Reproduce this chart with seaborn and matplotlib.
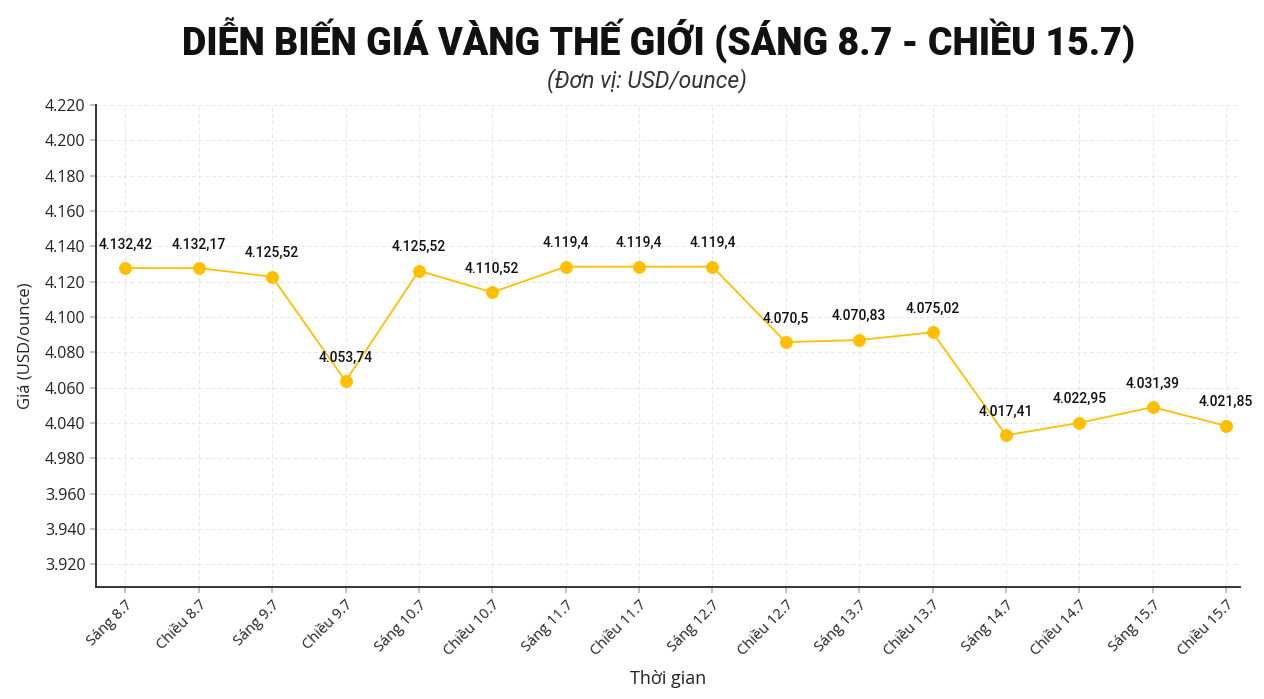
import matplotlib
matplotlib.use("Agg")
import matplotlib.pyplot as plt
import seaborn as sns
import pandas as pd

# Time slots (x axis)
periods = ["Sáng 8.7", "Chiều 8.7", "Sáng 9.7", "Chiều 9.7", "Sáng 10.7", "Chiều 10.7",
           "Sáng 11.7", "Chiều 11.7", "Sáng 12.7", "Chiều 12.7", "Sáng 13.7", "Chiều 13.7",
           "Sáng 14.7", "Chiều 14.7", "Sáng 15.7", "Chiều 15.7"]

# point heights as drawn against the axis of the original chart
plotted = [4127.6, 4127.6, 4122.7, 4063.6, 4126.1, 4113.9, 4128.4, 4128.4,
           4128.4, 4085.7, 4086.9, 4091.2, 4033.0, 4040.0, 4048.9, 4038.3]

# price labels written above each point
price_labels = ["4.132,42", "4.132,17", "4.125,52", "4.053,74", "4.125,52", "4.110,52",
                "4.119,4", "4.119,4", "4.119,4", "4.070,5", "4.070,83", "4.075,02",
                "4.017,41", "4.022,95", "4.031,39", "4.021,85"]

# y axis ticks and their (original) labels
y_ticks = [4220, 4200, 4180, 4160, 4140, 4120, 4100, 4080, 4060, 4040, 4020, 4000, 3980, 3960]
y_tick_labels = ["4.220", "4.200", "4.180", "4.160", "4.140", "4.120", "4.100", "4.080",
                 "4.060", "4.040", "4.980", "3.960", "3.940", "3.920"]

df = pd.DataFrame({"period": periods, "price": plotted})

sns.set_theme(style="white")
plt.rcParams["font.family"] = ["Roboto", "DejaVu Sans"]

fig = plt.figure(figsize=(12.64, 6.99), dpi=100)
ax = fig.add_axes([0.076, 0.160, 0.905, 0.690])

gold = "#FFBF00"
sns.lineplot(data=df, x="period", y="price", color=gold, linewidth=1.3,
             marker="o", markersize=8.5, markeredgecolor=gold, markerfacecolor=gold,
             sort=False, ax=ax)

for i, (v, lab) in enumerate(zip(plotted, price_labels)):
    ax.annotate(lab, xy=(i, v), xytext=(0, 12), textcoords="offset points",
                ha="center", va="bottom", fontsize=10, fontweight="medium",
                color="#111111", family=["Roboto", "DejaVu Sans"])

ax.set_xlim(-0.4, len(periods) - 1 + 0.19)
ax.set_ylim(3947, 4220)
ax.set_yticks(y_ticks)
ax.set_yticklabels(y_tick_labels, fontsize=11.5, color="#222222",
                   family=["Open Sans", "DejaVu Sans"])
ax.set_xticks(range(len(periods)))
ax.set_xticklabels(periods, rotation=45, ha="right", rotation_mode="anchor",
                   fontsize=10.5, color="#222222", family=["Open Sans", "DejaVu Sans"])

ax.grid(True, color="#e6e6e6", linestyle=(0, (4, 3)), linewidth=0.7)
ax.tick_params(axis="both", which="both", length=4, color="#bbbbbb", left=True, bottom=True)
for s in ["top", "right"]:
    ax.spines[s].set_visible(False)
for s in ["left", "bottom"]:
    ax.spines[s].set_color("#333333")
    ax.spines[s].set_linewidth(1.4)

ax.set_xlabel("Thời gian", fontsize=13, color="#222222", labelpad=8,
              family=["Open Sans", "DejaVu Sans"])
ax.set_ylabel("Giá (USD/ounce)", fontsize=12, color="#222222", labelpad=8,
              family=["Open Sans", "DejaVu Sans"])

fig.text(0.521, 0.943, "DIỄN BIẾN GIÁ VÀNG THẾ GIỚI (SÁNG 8.7 - CHIỀU 15.7)",
         ha="center", va="center", fontsize=27, fontweight="black", color="#111111")
fig.text(0.512, 0.885, "(Đơn vị: USD/ounce)", ha="center", va="center",
         fontsize=16.5, style="italic", color="#333333")

fig.savefig("out.png", dpi=100)
